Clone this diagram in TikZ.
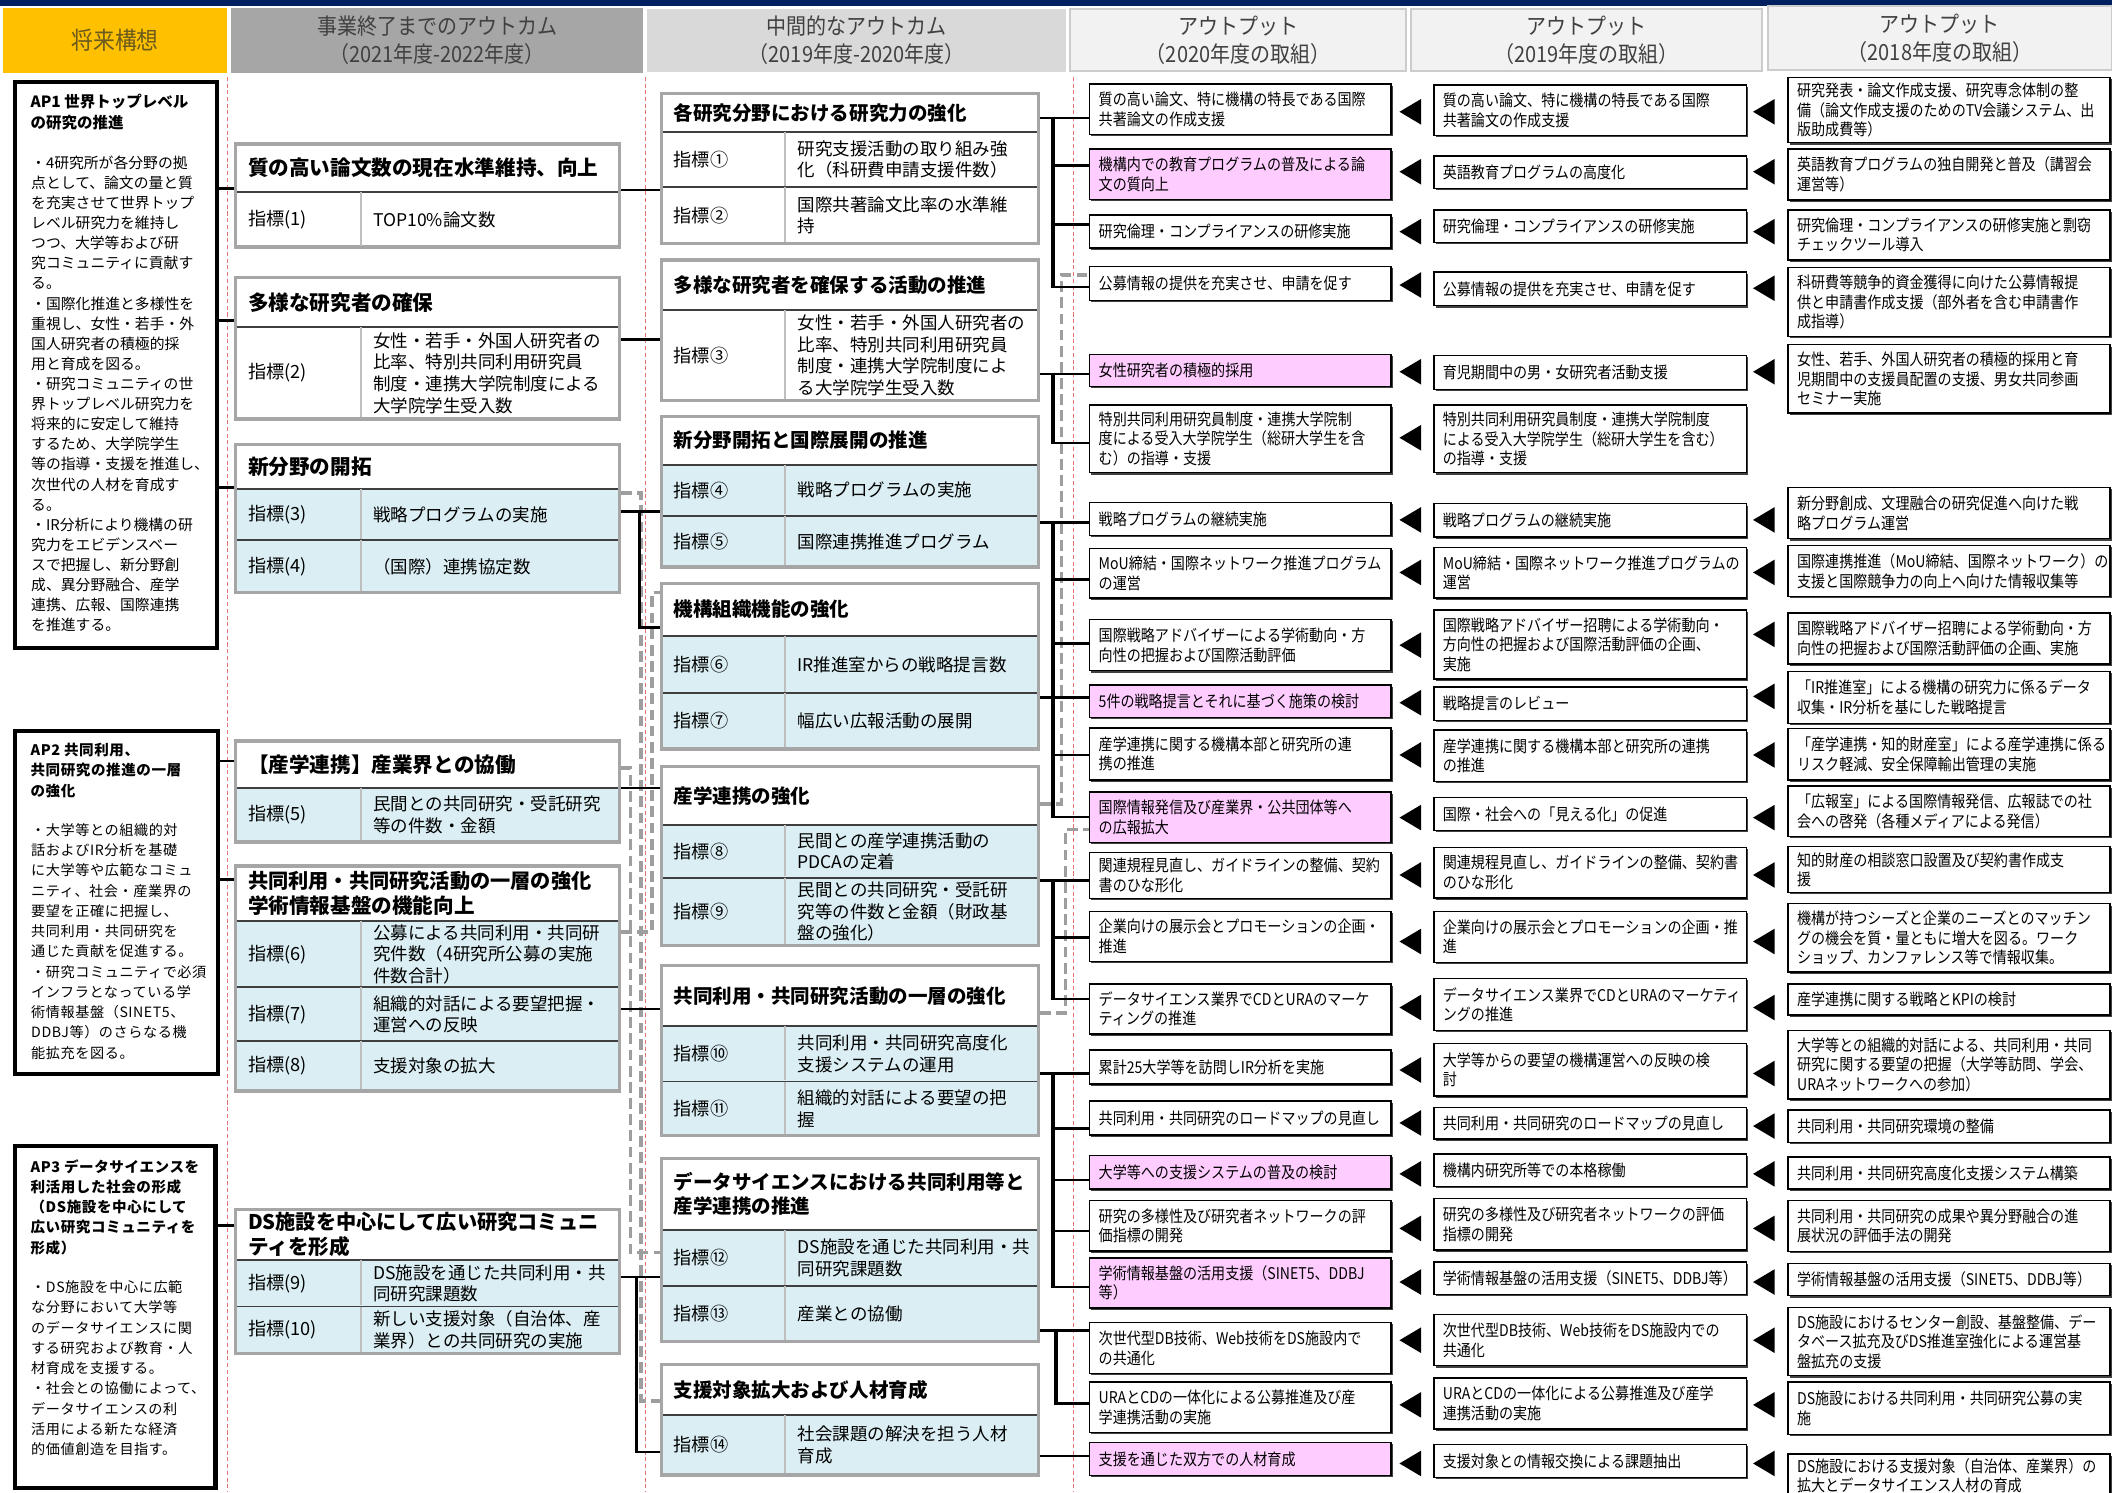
\documentclass[tikz,border=0pt]{standalone}
\usepackage{fontspec}
\setmainfont{Noto Sans CJK JP}
\newfontfamily\cond{Noto Sans CJK JP}[FakeStretch=0.87]
\newfontfamily\hdr{Noto Sans CJK JP}[FakeStretch=0.9]
\newfontfamily\wjp{Noto Sans CJK JP}[LetterSpace=4]
\usetikzlibrary{fit,shadows}
\definecolor{navy}{HTML}{002060}
\definecolor{gold}{HTML}{FFC000}
\definecolor{hgray}{HTML}{A6A6A6}
\definecolor{hlight}{HTML}{D9D9D9}
\definecolor{hpale}{HTML}{F2F2F2}
\definecolor{hline}{HTML}{CCCCCC}
\definecolor{kgray}{HTML}{A6A6A6}
\definecolor{kdark}{HTML}{3F3F3F}
\definecolor{kcol}{HTML}{BFBFBF}
\definecolor{kblue}{HTML}{DAEEF3}
\definecolor{kpink}{HTML}{FFCCFF}
\definecolor{htext}{HTML}{404040}
\definecolor{goldtext}{HTML}{6B5A1E}
\definecolor{reddash}{HTML}{E57373}
\definecolor{dgray}{HTML}{9E9E9E}
\tikzset{
  hc/.style={inner sep=0pt, draw=white, line width=1pt},
  hc2/.style={inner sep=0pt, fill=hpale, draw=hline, line width=1.5pt},
  htx/.style={align=center, inner sep=0pt, text=htext, font=\hdr\fontsize{16.5}{21}\selectfont},
  apb/.style={draw=black, line width=3pt, inner sep=0pt},
  apt/.style={anchor=north west, align=left, inner sep=0pt, font=\bfseries\fontsize{11.5}{15}\selectfont},
  apx/.style={anchor=north west, align=left, inner sep=0pt, font=\fontsize{11}{14.93}\selectfont},
  apt2/.style={anchor=north west, align=left, inner sep=0pt, font=\wjp\bfseries\fontsize{10.8}{15}\selectfont},
  apx2/.style={anchor=north west, align=left, inner sep=0pt, font=\wjp\fontsize{10.5}{15.05}\selectfont},
  kb/.style={draw=kgray, line width=2.5pt, inner sep=0pt},
  tdv/.style={draw=kdark, line width=1.5pt},
  rdv/.style={draw=kdark, line width=1.3pt},
  cdv/.style={draw=kcol, line width=1.5pt},
  ttl/.style={anchor=west, align=left, inner sep=0pt, font=\bfseries\fontsize{14.5}{18}\selectfont},
  ttlb/.style={anchor=west, align=left, inner sep=0pt, font=\bfseries\fontsize{15.3}{18.5}\selectfont},
  lab/.style={anchor=west, inner sep=0pt, font=\fontsize{13.5}{16}\selectfont},
  rtx/.style={anchor=west, align=left, inner sep=0pt, font=\fontsize{13}{16}\selectfont},
  ob/.style={draw=black, line width=1pt, inner sep=0pt,
     drop shadow={shadow xshift=1.3pt, shadow yshift=-1.3pt, opacity=1, fill=black!75}},
  otx/.style={anchor=west, align=left, inner sep=0pt, font=\cond\fontsize{12}{14.5}\selectfont},
  cn/.style={draw=black, line width=2pt},
  tr/.style={draw=black, line width=3pt},
  gd/.style={draw=dgray, line width=2.6pt, dash pattern=on 8pt off 4pt},
  rd/.style={draw=reddash, line width=0.6pt, dash pattern=on 3pt off 2pt},
}
\newcommand\kbox[9][ttl]{%
  \fill[white] (#3,#5) rectangle (#4,#6);
  \fill[#8] (#3,#6) rectangle (#4,#7);
  \draw[tdv] (#3,#6) -- (#4,#6);
  \node[kb, fit={(#3,#5)(#4,#7)}] (#2) {};
  \node[#1] (#2t) at (#3+9,{(#5+#6)/2}) {#9};
}
\newcommand\krow[8]{%
  \draw[rdv] (#2+1.2,#5) -- (#4-1.2,#5);
  \draw[cdv] (#3,#5) -- (#3,#6-1.2);
  \node[lab] (#1l) at (#2+9,{(#5+#6)/2}) {#7};
  \node[rtx] (#1x) at (#3+9,{(#5+#6)/2}) {#8};
}
\newcommand\obx[7]{%
  \node[ob, fill=#6, fit={(#2,#3)(#4,#5)}] (#1) {};
  \node[otx] (#1t) at ([xshift=7pt]#1.west) {#7};
}
\newcommand\otri[2]{\fill[black] (#1,#2) -- (#1+16,#2-9.5) -- (#1+16,#2+9.5) -- cycle;}
\def\Al{809}\def\Ar{1032.6}\def\Bl{1064.5}\def\Br{1296.7}\def\Cl{1327.5}\def\Cr{1566.5}
\def\Ta{1039}\def\Tb{1301.5}\def\Tx{781.5}
\begin{document}
\begin{tikzpicture}[x=1pt,y=-1pt]
\useasboundingbox (0,0) rectangle (1568,1108);
\fill[white] (0,0) rectangle (1568,1108);
% header
\fill[navy] (0,0) rectangle (1568,4.5);
\node[hc, fill=gold, fit={(2,5.5)(169,54.5)}] (h1) {};
\node[inner sep=0pt, text=goldtext, font=\hdr\fontsize{18}{20}\selectfont] (h1t) at (h1.center) {将来構想};
\node[hc, fill=hgray, fit={(171,5.5)(478,54.5)}] (h2) {};
\node[htx] (h2t) at (h2.center) {事業終了までのアウトカム\\（2021年度-2022年度）};
\node[hc, fill=hlight, fit={(480,6)(792,54)}] (h3) {};
\node[htx] (h3t) at (h3.center) {中間的なアウトカム\\（2019年度-2020年度）};
\node[hc2, fit={(794.5,6.5)(1044,53)}] (h4) {};
\node[htx] (h4t) at (h4.center) {アウトプット\\（2020年度の取組）};
\node[hc2, fit={(1047.5,6.5)(1308,53)}] (h5) {};
\node[htx] (h5t) at (h5.center) {アウトプット\\（2019年度の取組）};
\node[hc2, fit={(1312.5,4.5)(1568,52)}] (h6) {};
\node[htx] (h6t) at (h6.center) {アウトプット\\（2018年度の取組）};
% red dashed separators
\draw[rd] (169,57) -- (169,1108);
\draw[rd] (479,57) -- (479,1108);
\draw[rd] (797,57) -- (797,1108);
% column 1
\node[apb, fit={(11,61)(161,481)}] (ap1) {};
\node[apt] (ap1t) at (22.5,70) {AP1 世界トップレベル\\の研究の推進};
\node[apx] (ap1x) at (23,115.4) {・4研究所が各分野の拠\\点として、論文の量と質\\を充実させて世界トップ\\レベル研究力を維持し\\つつ、大学等および研\\究コミュニティに貢献す\\る。\\・国際化推進と多様性を\\重視し、女性・若手・外\\国人研究者の積極的採\\用と育成を図る。\\・研究コミュニティの世\\界トップレベル研究力を\\将来的に安定して維持\\するため、大学院学生\\等の指導・支援を推進し、\\次世代の人材を育成す\\る。\\・IR分析により機構の研\\究力をエビデンスベー\\スで把握し、新分野創\\成、異分野融合、産学\\連携、広報、国際連携\\を推進する。};
\node[apb, fit={(11,543)(162,797)}] (ap2) {};
\node[apt2] (ap2t) at (22.5,551.6) {AP2 共同利用、\\共同研究の推進の一層\\の強化};
\node[apx2] (ap2x) at (23,611) {・大学等との組織的対\\話およびIR分析を基礎\\に大学等や広範なコミュ\\ニティ、社会・産業界の\\要望を正確に把握し、\\共同利用・共同研究を\\通じた貢献を促進する。\\・研究コミュニティで必須\\インフラとなっている学\\術情報基盤（SINET5、\\DDBJ等）のさらなる機\\能拡充を図る。};
\node[apb, fit={(11,851)(160,1105)}] (ap3) {};
\node[apt2] (ap3t) at (22.5,860.6) {AP3 データサイエンスを\\利活用した社会の形成\\（DS施設を中心にして\\広い研究コミュニティを\\形成）};
\node[apx2] (ap3x) at (23,950.5) {・DS施設を中心に広範\\な分野において大学等\\のデータサイエンスに関\\する研究および教育・人\\材育成を支援する。\\・社会との協働によって、\\データサイエンスの利\\活用による新たな経済\\的価値創造を目指す。};
% column 2
\kbox[ttlb]{b21}{175}{460}{107}{142.5}{183.5}{white}{質の高い論文数の現在水準維持、向上}
\krow{b21a}{175}{268}{460}{142.5}{183.5}{指標(1)}{TOP10\%論文数}
\kbox[ttlb]{b22}{175}{460}{206}{243}{311}{white}{多様な研究者の確保}
\krow{b22a}{175}{268}{460}{243}{311}{指標(2)}{女性・若手・外国人研究者の\\比率、特別共同利用研究員\\制度・連携大学院制度による\\大学院学生受入数}
\kbox[ttlb]{b23}{175}{460}{330}{363}{440}{kblue}{新分野の開拓}
\krow{b23a}{175}{268}{460}{363}{401}{指標(3)}{戦略プログラムの実施}
\krow{b23b}{175}{268}{460}{401}{440}{指標(4)}{（国際）連携協定数}
\kbox[ttlb]{b24}{175}{460}{550}{585}{625}{kblue}{【産学連携】産業界との協働}
\krow{b24a}{175}{268}{460}{585}{625}{指標(5)}{民間との共同研究・受託研究\\等の件数・金額}
\kbox[ttlb]{b25}{175}{460}{643}{684}{810}{kblue}{\fontsize{15}{18.5}\selectfont 共同利用・共同研究活動の一層の強化\\学術情報基盤の機能向上}
\krow{b25a}{175}{268}{460}{684}{733}{指標(6)}{公募による共同利用・共同研\\究件数（4研究所公募の実施\\件数合計）}
\krow{b25b}{175}{268}{460}{733}{773}{指標(7)}{組織的対話による要望把握・\\運営への反映}
\krow{b25c}{175}{268}{460}{773}{810}{指標(8)}{支援対象の拡大}
\kbox[ttlb]{b26}{175}{460}{898}{935.6}{1005}{kblue}{\fontsize{15}{17.5}\selectfont DS施設を中心にして広い研究コミュニ\\ティを形成}
\krow{b26a}{175}{268}{460}{935.6}{970}{指標(9)}{DS施設を通じた共同利用・共\\同研究課題数}
\krow{b26b}{175}{268}{460}{970}{1005}{指標(10)}{新しい支援対象（自治体、産\\業界）との共同研究の実施}
% column 3
\kbox{b31}{491}{771}{69.5}{98}{181}{white}{各研究分野における研究力の強化}
\krow{b31a}{491}{583}{771}{98}{139}{指標①}{研究支援活動の取り組み強\\化（科研費申請支援件数）}
\krow{b31b}{491}{583}{771}{139}{181}{指標②}{国際共著論文比率の水準維\\持}
\kbox{b32}{491}{771}{193}{230}{297.5}{white}{多様な研究者を確保する活動の推進}
\krow{b32a}{491}{583}{771}{230}{297.5}{指標③}{女性・若手・外国人研究者の\\比率、特別共同利用研究員\\制度・連携大学院制度によ\\る大学院学生受入数}
\kbox{b33}{491}{771}{309}{345}{421}{kblue}{新分野開拓と国際展開の推進}
\krow{b33a}{491}{583}{771}{345}{383}{指標④}{戦略プログラムの実施}
\krow{b33b}{491}{583}{771}{383}{421}{指標⑤}{国際連携推進プログラム}
\kbox{b34}{491}{771}{433}{472}{556}{kblue}{機構組織機能の強化}
\krow{b34a}{491}{583}{771}{472}{514.6}{指標⑥}{IR推進室からの戦略提言数}
\krow{b34b}{491}{583}{771}{514.6}{556}{指標⑦}{幅広い広報活動の展開}
\kbox{b35}{491}{771}{569}{612.5}{702}{kblue}{産学連携の強化}
\krow{b35a}{491}{583}{771}{612.5}{651.6}{指標⑧}{民間との産学連携活動の\\PDCAの定着}
\krow{b35b}{491}{583}{771}{651.6}{702}{指標⑨}{民間との共同研究・受託研\\究等の件数と金額（財政基\\盤の強化）}
\kbox{b36}{491}{771}{717}{762}{843}{kblue}{共同利用・共同研究活動の一層の強化}
\krow{b36a}{491}{583}{771}{762}{803}{指標⑩}{共同利用・共同研究高度化\\支援システムの運用}
\krow{b36b}{491}{583}{771}{803}{843}{指標⑪}{組織的対話による要望の把\\握}
\kbox{b37}{491}{771}{860}{913}{996}{kblue}{データサイエンスにおける共同利用等と\\産学連携の推進}
\krow{b37a}{491}{583}{771}{913}{955}{指標⑫}{DS施設を通じた共同利用・共\\同研究課題数}
\krow{b37b}{491}{583}{771}{955}{996}{指標⑬}{産業との協働}
\kbox{b38}{491}{771}{1013}{1050.7}{1095}{kblue}{支援対象拡大および人材育成}
\krow{b38a}{491}{583}{771}{1050.7}{1095}{指標⑭}{社会課題の解決を担う人材\\育成}
% columns 4-6
\obx{r1a}{\Al}{62.4}{\Ar}{100}{white}{質の高い論文、特に機構の特長である国際\\共著論文の作成支援}
\obx{r1b}{\Bl}{63}{\Br}{100.7}{white}{質の高い論文、特に機構の特長である国際\\共著論文の作成支援}
\obx{r1c}{\Cl}{57.5}{\Cr}{106}{white}{研究発表・論文作成支援、研究専念体制の整\\備（論文作成支援のためのTV会議システム、出\\版助成費等）}
\obx{r2a}{\Al}{110.6}{\Ar}{148}{kpink}{機構内での教育プログラムの普及による論\\文の質向上}
\obx{r2b}{\Bl}{115.8}{\Br}{140}{white}{英語教育プログラムの高度化}
\obx{r2c}{\Cl}{110.6}{\Cr}{148.5}{white}{英語教育プログラムの独自開発と普及（講習会\\運営等）}
\obx{r3a}{\Al}{159.6}{\Ar}{184}{white}{研究倫理・コンプライアンスの研修実施}
\obx{r3b}{\Bl}{156}{\Br}{180}{white}{研究倫理・コンプライアンスの研修実施}
\obx{r3c}{\Cl}{156}{\Cr}{193}{white}{研究倫理・コンプライアンスの研修実施と剽窃\\チェックツール導入}
\obx{r4a}{\Al}{198}{\Ar}{223}{white}{公募情報の提供を充実させ、申請を促す}
\obx{r4b}{\Bl}{202}{\Br}{227}{white}{公募情報の提供を充実させ、申請を促す}
\obx{r4c}{\Cl}{198.7}{\Cr}{250}{white}{科研費等競争的資金獲得に向けた公募情報提\\供と申請書作成支援（部外者を含む申請書作\\成指導）}
\obx{r5a}{\Al}{263}{\Ar}{287}{kpink}{女性研究者の積極的採用}
\obx{r5b}{\Bl}{264}{\Br}{289}{white}{育児期間中の男・女研究者活動支援}
\obx{r5c}{\Cl}{256}{\Cr}{306.7}{white}{女性、若手、外国人研究者の積極的採用と育\\児期間中の支援員配置の支援、男女共同参画\\セミナー実施}
\obx{r6a}{\Al}{300.7}{\Ar}{351}{white}{特別共同利用研究員制度・連携大学院制\\度による受入大学院学生（総研大学生を含\\む）の指導・支援}
\obx{r6b}{\Bl}{300.7}{\Br}{351}{white}{特別共同利用研究員制度・連携大学院制度\\による受入大学院学生（総研大学生を含む）\\の指導・支援}
\obx{r7a}{\Al}{373}{\Ar}{397.7}{white}{戦略プログラムの継続実施}
\obx{r7b}{\Bl}{374}{\Br}{398.7}{white}{戦略プログラムの継続実施}
\obx{r7c}{\Cl}{362}{\Cr}{400}{white}{新分野創成、文理融合の研究促進へ向けた戦\\略プログラム運営}
\obx{r8a}{\Al}{407}{\Ar}{444}{white}{MoU締結・国際ネットワーク推進プログラム\\の運営}
\obx{r8b}{\Bl}{406.6}{\Br}{444}{white}{MoU締結・国際ネットワーク推進プログラムの\\運営}
\obx{r8c}{\Cl}{405}{\Cr}{443}{white}{国際連携推進（MoU締結、国際ネットワーク）の\\支援と国際競争力の向上へ向けた情報収集等}
\obx{r9a}{\Al}{460}{\Ar}{498}{white}{国際戦略アドバイザーによる学術動向・方\\向性の把握および国際活動評価}
\obx{r9b}{\Bl}{452.8}{\Br}{504}{white}{国際戦略アドバイザー招聘による学術動向・\\方向性の把握および国際活動評価の企画、\\実施}
\obx{r9c}{\Cl}{455}{\Cr}{493}{white}{国際戦略アドバイザー招聘による学術動向・方\\向性の把握および国際活動評価の企画、実施}
\obx{r10a}{\Al}{508.6}{\Ar}{532.8}{kpink}{5件の戦略提言とそれに基づく施策の検討}
\obx{r10b}{\Bl}{510}{\Br}{535}{white}{戦略提言のレビュー}
\obx{r10c}{\Cl}{498.6}{\Cr}{537}{white}{「IR推進室」による機構の研究力に係るデータ\\収集・IR分析を基にした戦略提言}
\obx{r11a}{\Al}{540.5}{\Ar}{579}{white}{産学連携に関する機構本部と研究所の連\\携の推進}
\obx{r11b}{\Bl}{542}{\Br}{580}{white}{産学連携に関する機構本部と研究所の連携\\の推進}
\obx{r11c}{\Cl}{541}{\Cr}{579}{white}{「産学連携・知的財産室」による産学連携に係る\\リスク軽減、安全保障輸出管理の実施}
\obx{r12a}{\Al}{588}{\Ar}{625.6}{kpink}{国際情報発信及び産業界・公共団体等へ\\の広報拡大}
\obx{r12b}{\Bl}{592}{\Br}{616.7}{white}{国際・社会への「見える化」の促進}
\obx{r12c}{\Cl}{583.5}{\Cr}{621}{white}{「広報室」による国際情報発信、広報誌での社\\会への啓発（各種メディアによる発信）}
\obx{r13a}{\Al}{633}{\Ar}{667}{white}{関連規程見直し、ガイドラインの整備、契約\\書のひな形化}
\obx{r13b}{\Bl}{629}{\Br}{666.7}{white}{関連規程見直し、ガイドラインの整備、契約書\\のひな形化}
\obx{r13c}{\Cl}{628.6}{\Cr}{662.7}{white}{知的財産の相談窓口設置及び契約書作成支\\援}
\obx{r14a}{\Al}{676.6}{\Ar}{714}{white}{企業向けの展示会とプロモーションの企画・\\推進}
\obx{r14b}{\Bl}{676.6}{\Br}{714.5}{white}{企業向けの展示会とプロモーションの企画・推\\進}
\obx{r14c}{\Cl}{671}{\Cr}{721.5}{white}{機構が持つシーズと企業のニーズとのマッチン\\グの機会を質・量ともに増大を図る。ワーク\\ショップ、カンファレンス等で情報収集。}
\obx{r15a}{\Al}{730.5}{\Ar}{767.6}{white}{データサイエンス業界でCDとURAのマーケ\\ティングの推進}
\obx{r15b}{\Bl}{726.6}{\Br}{765}{white}{データサイエンス業界でCDとURAのマーケティ\\ングの推進}
\obx{r15c}{\Cl}{730.5}{\Cr}{753.6}{white}{産学連携に関する戦略とKPIの検討}
\obx{r16a}{\Al}{779.5}{\Ar}{804.8}{white}{累計25大学等を訪問しIR分析を実施}
\obx{r16b}{\Bl}{774.8}{\Br}{813.6}{white}{大学等からの要望の機構運営への反映の検\\討}
\obx{r16c}{\Cl}{765}{\Cr}{816}{white}{大学等との組織的対話による、共同利用・共同\\研究に関する要望の把握（大学等訪問、学会、\\URAネットワークへの参加）}
\obx{r17a}{\Al}{817.4}{\Ar}{842.6}{white}{共同利用・共同研究のロードマップの見直し}
\obx{r17b}{\Bl}{822}{\Br}{845.6}{white}{共同利用・共同研究のロードマップの見直し}
\obx{r17c}{\Cl}{824}{\Cr}{848}{white}{共同利用・共同研究環境の整備}
\obx{r18a}{\Al}{858}{\Ar}{882.7}{kpink}{大学等への支援システムの普及の検討}
\obx{r18b}{\Bl}{856.7}{\Br}{881}{white}{機構内研究所等での本格稼働}
\obx{r18c}{\Cl}{859}{\Cr}{882.7}{white}{共同利用・共同研究高度化支援システム構築}
\obx{r19a}{\Al}{891.4}{\Ar}{928.7}{white}{研究の多様性及び研究者ネットワークの評\\価指標の開発}
\obx{r19b}{\Bl}{890}{\Br}{928}{white}{研究の多様性及び研究者ネットワークの評価\\指標の開発}
\obx{r19c}{\Cl}{891.4}{\Cr}{929}{white}{共同利用・共同研究の成果や異分野融合の進\\展状況の評価手法の開発}
\obx{r20a}{\Al}{934}{\Ar}{971}{kpink}{学術情報基盤の活用支援（SINET5、DDBJ\\等）}
\obx{r20b}{\Bl}{937}{\Br}{961}{white}{学術情報基盤の活用支援（SINET5、DDBJ等）}
\obx{r20c}{\Cl}{938}{\Cr}{962}{white}{学術情報基盤の活用支援（SINET5、DDBJ等）}
\obx{r21a}{\Al}{982}{\Ar}{1019.7}{white}{次世代型DB技術、Web技術をDS施設内で\\の共通化}
\obx{r21b}{\Bl}{976}{\Br}{1014}{white}{次世代型DB技術、Web技術をDS施設内での\\共通化}
\obx{r21c}{\Cl}{970.8}{\Cr}{1021.4}{white}{DS施設におけるセンター創設、基盤整備、デー\\タベース拡充及びDS推進室強化による運営基\\盤拡充の支援}
\obx{r22a}{\Al}{1026}{\Ar}{1063.5}{white}{URAとCDの一体化による公募推進及び産\\学連携活動の実施}
\obx{r22b}{\Bl}{1023}{\Br}{1061}{white}{URAとCDの一体化による公募推進及び産学\\連携活動の実施}
\obx{r22c}{\Cl}{1026}{\Cr}{1065}{white}{DS施設における共同利用・共同研究公募の実\\施}
\obx{r23a}{\Al}{1071}{\Ar}{1095.5}{kpink}{支援を通じた双方での人材育成}
\obx{r23b}{\Bl}{1072.4}{\Br}{1096.9}{white}{支援対象との情報交換による課題抽出}
\obx{r23c}{\Cl}{1079.5}{\Cr}{1112}{white}{DS施設における支援対象（自治体、産業界）の\\拡大とデータサイエンス人材の育成}
% triangles
\otri{\Ta}{83}\otri{\Tb}{83}
\otri{\Ta}{127.5}\otri{\Tb}{127.5}
\otri{\Ta}{172}\otri{\Tb}{172}
\otri{\Ta}{211.6}\otri{\Tb}{214}
\otri{\Ta}{276}\otri{\Tb}{276}
\otri{\Ta}{325}
\otri{\Ta}{386}\otri{\Tb}{386}
\otri{\Ta}{425}\otri{\Tb}{425}
\otri{\Ta}{479}\otri{\Tb}{471}
\otri{\Ta}{521.7}\otri{\Tb}{517}
\otri{\Ta}{560.5}\otri{\Tb}{560.5}
\otri{\Ta}{607}\otri{\Tb}{607}
\otri{\Ta}{649.6}\otri{\Tb}{649.6}
\otri{\Ta}{699}\otri{\Tb}{699}
\otri{\Ta}{748}\otri{\Tb}{748}
\otri{\Ta}{794.4}\otri{\Tb}{797}
\otri{\Ta}{833.7}\otri{\Tb}{836}
\otri{\Ta}{871.5}\otri{\Tb}{871.5}
\otri{\Ta}{912}\otri{\Tb}{912}
\otri{\Ta}{951.8}\otri{\Tb}{951.8}
\otri{\Ta}{995}\otri{\Tb}{995}
\otri{\Ta}{1043}\otri{\Tb}{1043}
\otri{\Ta}{1086.5}\otri{\Tb}{1086.5}
% gray dashed connectors
\draw[gd] (b23.east |- 0,366) -| (476,1040) -- (b38.west |- 0,1040);
\draw[gd] (b24.east |- 0,570) -| (468,930) -- (b37.west |- 0,930);
\draw[gd] (b25.east |- 0,692) -| (484,440) -- (b34.west |- 0,440);
\draw[gd] (b35.east |- 0,597) -| (788,204) -- (r4a.west |- 0,204);
\draw[gd] (b36.east |- 0,752) -| (791,616) -- (r12a.west |- 0,616);
% column 1 -> 2
\draw[cn] (ap1.east |- 0,140) -- (b21.west |- 0,140);
\draw[cn] (ap1.east |- 0,238) -- (b22.west |- 0,238);
\draw[cn] (ap1.east |- 0,362) -- (b23.west |- 0,362);
\draw[cn] (ap2.east |- 0,565) -- (b24.west |- 0,565);
\draw[cn] (ap2.east |- 0,653) -- (b25.west |- 0,653);
\draw[cn] (ap3.east |- 0,910) -- (b26.west |- 0,910);
% column 2 -> 3
\draw[cn] (b21.east |- 0,141) -- (b31.west |- 0,141);
\draw[cn] (b22.east |- 0,252) -- (b32.west |- 0,252);
\draw[cn] (b23.east |- 0,380) -- (b33.west |- 0,380);
\draw[cn] (474.6,379) |- (b34.west |- 0,466);
\draw[cn] (b24.east |- 0,585) -- (b35.west |- 0,585);
\draw[cn] (b25.east |- 0,749) -- (b36.west |- 0,749);
\draw[cn] (b26.east |- 0,948) -- (b37.west |- 0,948);
\draw[cn] (472.7,947) |- (b38.west |- 0,1078);
% column 3 -> 4
\draw[tr] (\Tx,86.5) -- (\Tx,214);
\draw[cn] (b31.east |- 0,87.5) -- (r1a.west |- 0,87.5);
\draw[cn] (\Tx,123) -- (r2a.west |- 0,123);
\draw[cn] (\Tx,166.5) -- (r3a.west |- 0,166.5);
\draw[cn] (\Tx,213) -- (r4a.west |- 0,213);
\draw[tr] (\Tx,276.6) -- (\Tx,330);
\draw[cn] (b32.east |- 0,277.6) -- (r5a.west |- 0,277.6);
\draw[cn] (\Tx,329) -- (r6a.west |- 0,329);
\draw[tr] (\Tx,387) -- (\Tx,607.5);
\draw[cn] (b33.east |- 0,388) -- (r7a.west |- 0,388);
\draw[cn] (\Tx,430) -- (r8a.west |- 0,430);
\draw[cn] (\Tx,477.6) -- (r9a.west |- 0,477.6);
\draw[cn] (b34.east |- 0,518) -- (r10a.west |- 0,518);
\draw[cn] (\Tx,560.5) -- (r11a.west |- 0,560.5);
\draw[cn] (\Tx,606.5) -- (r12a.west |- 0,606.5);
\draw[tr] (\Tx,652.7) -- (\Tx,742.7);
\draw[cn] (b35.east |- 0,653.7) -- (r13a.west |- 0,653.7);
\draw[cn] (\Tx,696) -- (r14a.west |- 0,696);
\draw[cn] (\Tx,741.7) -- (r15a.west |- 0,741.7);
\draw[tr] (\Tx,796) -- (\Tx,956.5);
\draw[cn] (b36.east |- 0,797) -- (r16a.west |- 0,797);
\draw[cn] (\Tx,838) -- (r17a.west |- 0,838);
\draw[cn] (\Tx,876) -- (r18a.west |- 0,876);
\draw[cn] (\Tx,914) -- (r19a.west |- 0,914);
\draw[cn] (\Tx,955.5) -- (r20a.west |- 0,955.5);
\draw[tr] (784,987) -- (784,1043);
\draw[cn] (b37.east |- 0,988) -- (r21a.west |- 0,988);
\draw[cn] (784,1042) -- (r22a.west |- 0,1042);
\draw[cn] (b38.east |- 0,1081) -- (r23a.west |- 0,1081);
\end{tikzpicture}
\end{document}
